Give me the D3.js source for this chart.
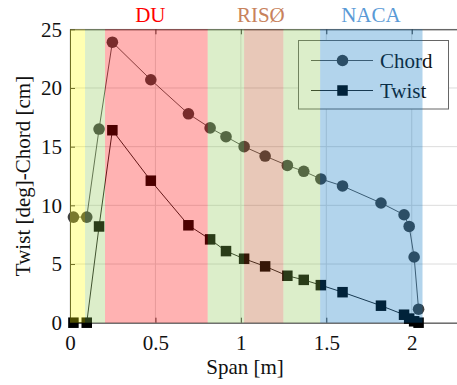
<!DOCTYPE html>
<html>
<head>
<meta charset="utf-8">
<script src="https://cdn.jsdelivr.net/npm/d3@7"></script>
<style>
  html, body { margin: 0; padding: 0; background: #fff; }
  svg text { font-family: 'Liberation Serif', 'Times New Roman', Times, 'DejaVu Serif', serif !important; }
</style>
</head>
<body>
<svg id="chart" width="457" height="385"></svg>
<script>
// Blade geometry along the span
const spanX = [0.02, 0.098, 0.17, 0.248, 0.473, 0.693, 0.82, 0.913, 1.019, 1.142, 1.272, 1.368, 1.468, 1.595, 1.82, 1.955, 1.985, 2.014, 2.04];
const chord = [9.0, 9.0, 16.5, 23.9, 20.7, 17.8, 16.6, 15.85, 15.0, 14.2, 13.4, 12.9, 12.25, 11.65, 10.2, 9.2, 8.2, 5.6, 1.15];
const twist = [0, 0, 8.2, 16.4, 12.1, 8.3, 7.1, 6.1, 5.45, 4.8, 4.0, 3.65, 3.2, 2.6, 1.45, 0.68, 0.35, 0.12, 0.0];

// Airfoil family sections (span boundaries) and their names
const bandEdges = [0, 0.088, 0.205, 0.806, 1.019, 1.249, 1.464, 2.063];
const familyNames = ["DU", "RISØ", "NACA"];
const familyLabelX = [0.47, 1.117, 1.761];

// Axis ticks
const xTicks = [0, 0.5, 1, 1.5, 2];
const xTickLabels = ["0", "0.5", "1", "1.5", "2"];
const yTicks = [0, 5, 10, 15, 20, 25];
const yTickLabels = ["0", "5", "10", "15", "20", "25"];

const seriesNames = ["Chord", "Twist"];

// ---- styling ----
const bandColors = ["rgb(255,255,0)", "rgb(140,198,80)", "rgb(255,0,0)", "rgb(140,198,80)",
                    "rgb(180,72,20)", "rgb(140,198,80)", "rgb(0,112,192)"];
const familyTextColors = ["#ff0000", "#c8825c", "#5a9ad6"];
const fontSize = 21;
const serif = "'Liberation Serif', 'Times New Roman', Times, 'DejaVu Serif', serif";

const svg = d3.select("#chart").style("font-family", serif);
const x = d3.scaleLinear().domain([0, 2.3]).range([70, 463]);
const y = d3.scaleLinear().domain([0, 25]).range([322.7, 29.3]);
const [x0, x1] = x.range();
const [yb, yt] = y.range();

// grid
const grid = svg.append("g");
grid.selectAll(".gx").data(xTicks).join("line")
  .attr("x1", d => x(d)).attr("x2", d => x(d)).attr("y1", yb).attr("y2", yt)
  .attr("stroke", "#dcdcdc").attr("stroke-width", 1);
grid.selectAll(".gy").data(yTicks).join("line")
  .attr("x1", x0).attr("x2", x1).attr("y1", d => y(d)).attr("y2", d => y(d))
  .attr("stroke", "#dcdcdc").attr("stroke-width", 1);

// axes with inward ticks
const axBottom = d3.axisBottom(x).tickValues(xTicks).tickFormat((d, i) => xTickLabels[i])
  .tickSizeInner(-5).tickSizeOuter(0).tickPadding(12);
const axTop = d3.axisTop(x).tickValues(xTicks).tickFormat("").tickSizeInner(-5).tickSizeOuter(0);
const axLeft = d3.axisLeft(y).tickValues(yTicks).tickFormat((d, i) => yTickLabels[i])
  .tickSizeInner(-5).tickSizeOuter(0).tickPadding(8);

function styleAxis(g) {
  g.attr("font-family", null).style("font-family", serif);
  g.select(".domain").attr("stroke", "#333").attr("stroke-width", 1);
  g.selectAll(".tick line").attr("stroke", "#333");
  g.selectAll(".tick text").attr("font-size", fontSize).attr("fill", "#111")
    .style("font-family", serif);
}
svg.append("g").attr("transform", `translate(0,${yb})`).call(axBottom).call(styleAxis);
svg.append("g").attr("transform", `translate(0,${yt})`).call(axTop).call(styleAxis);
svg.append("g").attr("transform", `translate(${x0},0)`).call(axLeft).call(styleAxis);

// axis titles
svg.append("text").attr("x", 245).attr("y", 374).attr("text-anchor", "middle")
  .attr("font-size", fontSize).attr("fill", "#111").text("Span [m]");
svg.append("text").attr("transform", `translate(30,${(yb + yt) / 2}) rotate(-90)`)
  .attr("text-anchor", "middle").attr("font-size", fontSize).attr("fill", "#111")
  .text("Twist [deg]-Chord [cm]");

// series
const pts = (vals) => spanX.map((s, i) => [s, vals[i]]);
const line = d3.line().x(d => x(d[0])).y(d => y(d[1]));

svg.append("path").datum(pts(chord)).attr("d", line)
  .attr("fill", "none").attr("stroke", "#555").attr("stroke-width", 1);
svg.append("path").datum(pts(twist)).attr("d", line)
  .attr("fill", "none").attr("stroke", "#222").attr("stroke-width", 1);

const sq = 10.5;
svg.append("g").selectAll("rect").data(pts(twist)).join("rect")
  .attr("x", d => x(d[0]) - sq / 2).attr("y", d => y(d[1]) - sq / 2)
  .attr("width", sq).attr("height", sq).attr("fill", "#000");
svg.append("g").selectAll("circle").data(pts(chord)).join("circle")
  .attr("cx", d => x(d[0])).attr("cy", d => y(d[1])).attr("r", 5.8)
  .attr("fill", "#404040");

// legend
const lg = svg.append("g");
lg.append("rect").attr("x", 298.5).attr("y", 40.5).attr("width", 150).attr("height", 68.5)
  .attr("fill", "#fff").attr("stroke", "#666").attr("stroke-width", 1);
const legendRows = [60.5, 90.5];
legendRows.forEach((ly, i) => {
  lg.append("line").attr("x1", 311).attr("x2", 373).attr("y1", ly).attr("y2", ly)
    .attr("stroke", i === 0 ? "#555" : "#222").attr("stroke-width", 1);
  if (i === 0) {
    lg.append("circle").attr("cx", 342.5).attr("cy", ly).attr("r", 5.8).attr("fill", "#404040");
  } else {
    lg.append("rect").attr("x", 342.5 - sq / 2).attr("y", ly - sq / 2)
      .attr("width", sq).attr("height", sq).attr("fill", "#000");
  }
  lg.append("text").attr("x", 380).attr("y", ly + 7).attr("font-size", fontSize)
    .attr("fill", "#111").text(seriesNames[i]);
});

// translucent airfoil sections laid over the plot
const bands = d3.pairs(bandEdges);
svg.append("g").selectAll("rect").data(bands).join("rect")
  .attr("x", d => x(d[0])).attr("width", d => x(d[1]) - x(d[0]))
  .attr("y", yt).attr("height", yb - yt)
  .attr("fill", (d, i) => bandColors[i]).attr("fill-opacity", 0.3);

// section names above the plot
svg.append("g").selectAll("text").data(familyNames).join("text")
  .attr("x", (d, i) => x(familyLabelX[i])).attr("y", 22).attr("text-anchor", "middle")
  .attr("font-size", fontSize).attr("fill", (d, i) => familyTextColors[i]).text(d => d);
</script>
</body>
</html>
